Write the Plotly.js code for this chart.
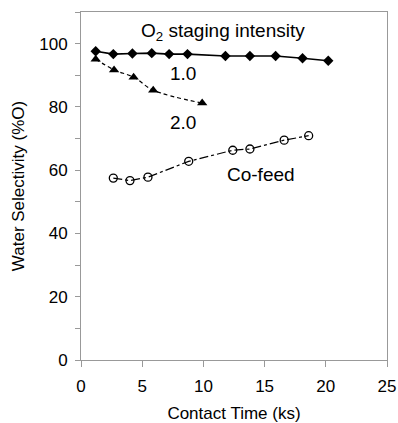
<!DOCTYPE html>
<html><head><meta charset="utf-8">
<script src="https://cdn.plot.ly/plotly-3.0.1.min.js"></script>
<style>html,body{margin:0;padding:0;background:#fff}#chart{width:398px;height:423px}</style>
</head><body><div id="chart"></div>
<script>
const x10 = [1.2, 2.64, 4.2, 5.78, 7.2, 8.7, 11.8, 13.8, 15.9, 18.1, 20.2];
const y10 = [97.6, 96.7, 96.9, 97.0, 96.7, 96.7, 96.1, 96.1, 96.1, 95.4, 94.6];
const x20 = [1.2, 2.7, 4.3, 5.9, 9.9];
const y20 = [95.1, 91.7, 89.4, 85.3, 81.2];
const xCo = [2.64, 4.0, 5.47, 8.8, 12.4, 13.8, 16.6, 18.6];
const yCo = [57.5, 56.7, 57.8, 62.8, 66.3, 66.7, 69.5, 70.9];
const xTicks = [0, 5, 10, 15, 20, 25];
const yTicks = [0, 20, 40, 60, 80, 100];

const font = {family: 'Liberation Sans, Arial, sans-serif', color: '#000'};
const f = s => Object.assign({size: s}, font);
const traces = [
  {x: x10, y: y10, mode: 'lines+markers', line: {color: '#000', width: 1.6},
   marker: {symbol: 'diamond', size: 8, color: '#000'}},
  {x: x20, y: y20, mode: 'markers', marker: {symbol: 'triangle-up', size: 9, color: '#000'}},
  {x: x20, y: y20, mode: 'lines', line: {color: '#000', width: 1.2, dash: '4px,3px', shape: 'spline', smoothing: 1}},
  {x: xCo, y: yCo, mode: 'lines+markers', line: {color: '#000', width: 1.2, dash: 'dashdot'},
   marker: {symbol: 'circle-open', size: 8, color: '#000', line: {width: 1.3}}}
];
const layout = {
  width: 398, height: 423, showlegend: false,
  margin: {l: 81, r: 11, t: 12, b: 63},
  paper_bgcolor: '#fff', plot_bgcolor: '#fff',
  font: f(17),
  xaxis: {range: [0, 25], tickvals: xTicks, ticks: 'outside', ticklen: 6, tickcolor: '#999',
    ticklabelstandoff: 5,
    showline: true, linecolor: '#999', mirror: true, showgrid: false, zeroline: false,
    tickfont: f(17),
    title: {text: 'Contact Time (ks)', font: f(17), standoff: 12}},
  yaxis: {range: [0, 110], tickvals: yTicks, ticks: 'outside', ticklen: 5, tickcolor: '#999',
    ticklabelstandoff: 4,
    minor: {dtick: 10, tick0: 10, ticks: 'outside', ticklen: 5, tickcolor: '#999'},
    showline: true, linecolor: '#999', mirror: true, showgrid: false, zeroline: false,
    tickfont: f(17),
    title: {text: 'Water Selectivity (%O)', font: f(17), standoff: 10}},
  annotations: [
    {x: 11.6, y: 103.8, text: 'O<sub>2</sub> staging intensity', showarrow: false, font: f(19)},
    {x: 8.33, y: 90.5, text: '1.0', showarrow: false, font: f(19)},
    {x: 8.33, y: 75.2, text: '2.0', showarrow: false, font: f(19)},
    {x: 14.7, y: 58.7, text: 'Co-feed', showarrow: false, font: f(19)}
  ]
};
Plotly.newPlot('chart', traces, layout, {displayModeBar: false, staticPlot: true});
</script></body></html>
